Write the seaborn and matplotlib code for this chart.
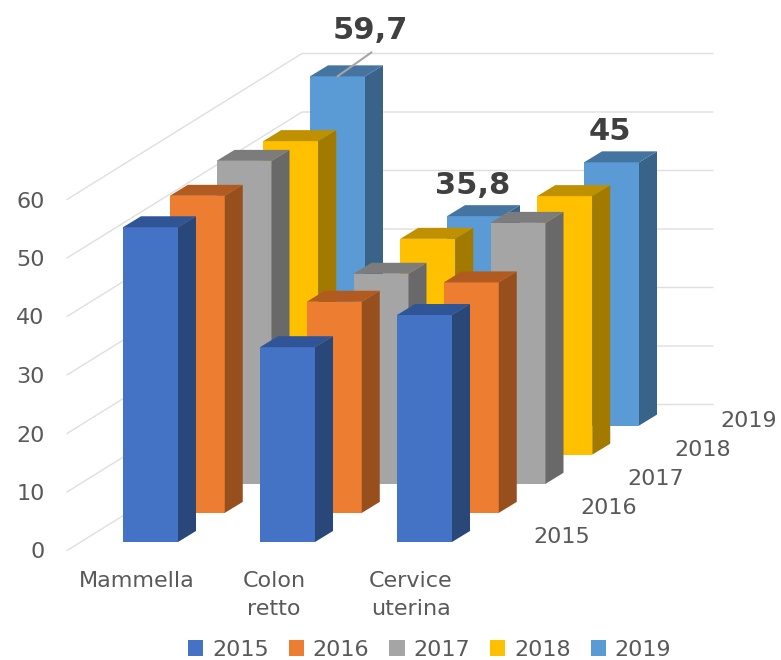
import numpy as np
import matplotlib
matplotlib.use("Agg")
import matplotlib.pyplot as plt
from matplotlib.patches import Patch
import seaborn as sns

categories = ["Mammella", "Colon\nretto", "Cervice\nuterina"]
years = ["2015", "2016", "2017", "2018", "2019"]
v2015 = [53.8, 33.3, 38.8]
v2016 = [54.2, 36.1, 39.4]
v2017 = [55.2, 35.9, 44.6]
v2018 = [53.6, 36.9, 44.2]
v2019 = [59.7, 35.8, 45.0]
series = [v2015, v2016, v2017, v2018, v2019]
labels = {(4, 0): "59,7", (4, 1): "35,8", (4, 2): "45"}
yticks = [0, 10, 20, 30, 40, 50, 60]

face = ["#4472C4", "#ED7D31", "#A5A5A5", "#FFC000", "#5B9BD5"]
side = ["#2A4779", "#964F1D", "#696969", "#A37A00", "#3A638A"]
top = ["#2F5597", "#B25B20", "#7C7C7C", "#BF9000", "#44749F"]

W, H = 781, 660
PXV = 5.85            # pixels per value unit
sns.set_theme(style="white")
plt.rcParams["font.family"] = ["DejaVu Sans"]
fig = plt.figure(figsize=(W / 100, H / 100), dpi=100)
left, bottom_px = 67, 565
ax = fig.add_axes([left / W, (H - bottom_px) / H, (W - left) / W, bottom_px / H])

bar_w, cat_step, row_dx, row_dy = 55, 137, 46.75, 29.1
dep_x, dep_y = 18, 11 / PXV
x0, base0 = 123, 8.5 / PXV
pos = np.arange(len(categories))

# back wall and side wall gridlines
for v in yticks:
    ax.plot([left, 302, 713], [v, v + 146 / PXV, v + 146 / PXV],
            color="#DFDFDF", lw=1.0, zorder=0, solid_joinstyle="miter", clip_on=False)

# rows from back to front
for s in range(len(years) - 1, -1, -1):
    lefts = x0 + pos * cat_step + s * row_dx
    base = base0 + s * row_dy / PXV
    vals = np.array(series[s])
    sns.barplot(x=lefts + bar_w / 2, y=vals, bottom=base, native_scale=True,
                width=bar_w / cat_step, color=face[s], saturation=1, ax=ax,
                linewidth=0, zorder=2 + (4 - s) * 2)
    for l, v in zip(lefts, vals):
        r = l + bar_w
        ax.fill([r, r + dep_x, r + dep_x, r],
                [base, base + dep_y, base + v + dep_y, base + v],
                color=side[s], lw=0, zorder=2 + (4 - s) * 2)
        ax.fill([l, l + dep_x, r + dep_x, r],
                [base + v, base + v + dep_y, base + v + dep_y, base + v],
                color=top[s], lw=0, zorder=2 + (4 - s) * 2)

ax.set_xlim(left, W)
ax.set_ylim(-(bottom_px - 550.5) / PXV, 550.5 / PXV)

# data labels
for (s, c), txt in labels.items():
    cx = x0 + c * cat_step + s * row_dx + bar_w / 2
    ty = base0 + s * row_dy / PXV + series[s][c]
    if c == 0:
        ax.plot([cx, cx + 34], [ty, ty + 24 / PXV], color="#A6A6A6", lw=1.5, zorder=20)
        ax.text(cx + 33, ty + 46 / PXV, txt, ha="center", va="center", fontsize=22,
                fontweight="bold", color="#404040", zorder=21)
    else:
        ax.text(cx - 2, ty + 30.5 / PXV, txt, ha="center", va="center", fontsize=22,
                fontweight="bold", color="#404040", zorder=21)

# depth axis labels
for s, y in enumerate(years):
    ax.text(562 + s * row_dx, (550.5 - 537 + s * row_dy) / PXV, y, ha="center", va="center",
            fontsize=16, color="#595959", clip_on=False)

ax.set_yticks(yticks)
ax.set_xticks(x0 + pos * cat_step + 14)
ax.set_xticklabels(categories, fontsize=16, color="#595959", linespacing=1.55)
ax.set_yticklabels([str(v) for v in yticks], fontsize=16, color="#595959")
ax.tick_params(axis="x", length=0, pad=4)
ax.tick_params(axis="y", length=0, pad=16)
ax.set_xlabel("")
ax.set_ylabel("")
sns.despine(ax=ax, left=True, bottom=True)
ax.patch.set_alpha(0)

handles = [Patch(facecolor=c, lw=0, label=y) for c, y in zip(face, years)]
fig.legend(handles=handles, ncol=5, loc="center", bbox_to_anchor=(429.5 / W, (H - 649.5) / H),
           frameon=False, fontsize=16, handlelength=0.7, handleheight=0.7,
           handletextpad=0.38, columnspacing=0.9, borderpad=0, labelcolor="#595959")
fig.savefig("out.png", dpi=100)
